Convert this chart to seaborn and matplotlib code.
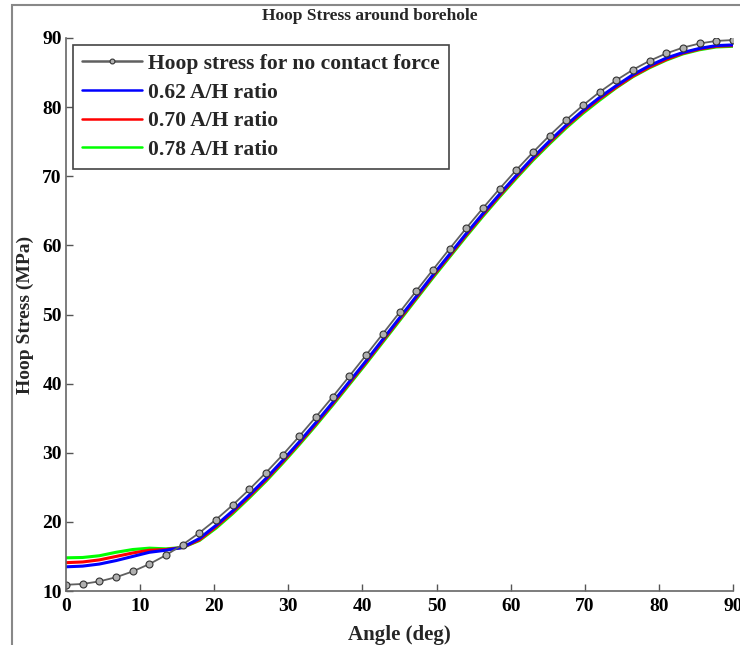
import matplotlib
matplotlib.use("Agg")
import matplotlib.pyplot as plt
import seaborn as sns
import pandas as pd
from matplotlib.patches import Rectangle

angles = [0, 2.25, 4.5, 6.75, 9, 11.25, 13.5, 15.75, 18, 20.25, 22.5, 24.75, 27, 29.25,
          31.5, 33.75, 36, 38.25, 40.5, 42.75, 45, 47.25, 49.5, 51.75, 54, 56.25, 58.5,
          60.75, 63, 65.25, 67.5, 69.75, 72, 74.25, 76.5, 78.75, 81, 83.25, 85.5, 87.75, 90]

no_contact = [10.9, 11.02, 11.39, 11.99, 12.83, 13.90, 15.19, 16.71, 18.42, 20.34, 22.44,
              24.71, 27.14, 29.71, 32.41, 35.22, 38.12, 41.10, 44.14, 47.21, 50.30, 53.39,
              56.46, 59.50, 62.48, 65.38, 68.19, 70.89, 73.46, 75.89, 78.16, 80.26, 82.18,
              83.89, 85.41, 86.70, 87.77, 88.61, 89.21, 89.58, 89.70]

ratio_062 = [13.5, 13.6, 13.9, 14.4, 15.0, 15.6, 15.9, 16.3, 17.6, 19.5, 21.6, 23.9, 26.3,
             28.9, 31.6, 34.4, 37.3, 40.3, 43.3, 46.4, 49.5, 52.6, 55.7, 58.7, 61.7, 64.6,
             67.4, 70.1, 72.7, 75.1, 77.4, 79.5, 81.4, 83.1, 84.7, 86.0, 87.1, 87.9, 88.5,
             88.9, 89.0]

ratio_070 = [14.1, 14.2, 14.5, 15.0, 15.5, 15.9, 16.0, 16.3, 17.4, 19.3, 21.4, 23.7, 26.1,
             28.7, 31.4, 34.2, 37.1, 40.1, 43.1, 46.2, 49.3, 52.4, 55.5, 58.5, 61.5, 64.4,
             67.2, 69.9, 72.5, 74.9, 77.2, 79.3, 81.2, 82.9, 84.5, 85.8, 86.9, 87.8, 88.4,
             88.8, 88.9]

ratio_078 = [14.8, 14.85, 15.1, 15.6, 16.0, 16.2, 16.1, 16.3, 17.3, 19.1, 21.2, 23.5, 25.9,
             28.5, 31.2, 34.0, 36.9, 39.9, 42.9, 46.0, 49.1, 52.2, 55.3, 58.3, 61.3, 64.2,
             67.0, 69.7, 72.3, 74.7, 77.0, 79.1, 81.0, 82.8, 84.4, 85.7, 86.8, 87.7, 88.3,
             88.7, 88.8]

labels = ["Hoop stress for no contact force", "0.62 A/H ratio", "0.70 A/H ratio", "0.78 A/H ratio"]
colors = ["#606060", "#0000ff", "#ff0000", "#00ff00"]
x_ticks = [0, 10, 20, 30, 40, 50, 60, 70, 80, 90]
y_ticks = [10, 20, 30, 40, 50, 60, 70, 80, 90]

sns.set_theme(style="white")
plt.rcParams['font.family'] = ['Liberation Serif', 'DejaVu Serif']
plt.rcParams['font.weight'] = 'bold'

fig = plt.figure(figsize=(7.4, 6.45), dpi=100)
ax = fig.add_axes([66 / 740, 1 - 591 / 645, (733 - 66) / 740, (591 - 38) / 645])

df_col = pd.DataFrame({
    "angle": angles * 3,
    "stress": ratio_078 + ratio_070 + ratio_062,
    "series": [labels[3]] * len(angles) + [labels[2]] * len(angles) + [labels[1]] * len(angles),
})
for lab, col in [(labels[3], colors[3]), (labels[2], colors[2]), (labels[1], colors[1])]:
    sub = df_col[df_col["series"] == lab]
    sns.lineplot(data=sub, x="angle", y="stress", ax=ax, color=col, linewidth=2.2,
                 label=lab, sort=False, estimator=None)

df_nc = pd.DataFrame({"angle": angles, "stress": no_contact})
sns.lineplot(data=df_nc, x="angle", y="stress", ax=ax, color=colors[0], linewidth=1.3,
             marker="o", markersize=5, markerfacecolor="#b0b0b0", markeredgecolor="#333333",
             markeredgewidth=0.8, label=labels[0], sort=False, estimator=None)

ax.set_xlim(0, 90)
ax.set_ylim(10, 90)
ax.set_xticks(x_ticks)
ax.set_yticks(y_ticks)
ax.tick_params(direction="in", length=5, width=1, colors="#555555", labelcolor="black",
               labelsize=14, bottom=True, left=True)
ax.tick_params(axis="x", pad=5)
ax.tick_params(axis="y", pad=3)
for lbl in ax.get_xticklabels() + ax.get_yticklabels():
    lbl.set_fontweight("bold")

for s in ["top", "right"]:
    ax.spines[s].set_visible(False)
for s in ["left", "bottom"]:
    ax.spines[s].set_color("#666666")
    ax.spines[s].set_linewidth(1.2)

ax.set_xlabel("Angle (deg)", fontsize=15, fontweight="bold", labelpad=7)
ax.set_ylabel("Hoop Stress (MPa)", fontsize=14, fontweight="bold", labelpad=6)
ax.set_title("Hoop Stress around borehole", fontsize=12.5, fontweight="bold", pad=0,
             x=(370 - 66) / 667, y=1.032)

handles, lbls = ax.get_legend_handles_labels()
order = [lbls.index(l) for l in labels]
leg = ax.legend([handles[i] for i in order], [lbls[i] for i in order],
                loc="upper left", bbox_to_anchor=(0.0105, 0.987), borderaxespad=0,
                frameon=True, fancybox=False, edgecolor="#444444", framealpha=1,
                handlelength=2.8, handletextpad=0.3, borderpad=0.4, labelspacing=0.4,
                prop={"weight": "bold", "size": 15.5})
leg.get_frame().set_linewidth(1.2)
for h in leg.legend_handles:
    h.set_linewidth(1.8)
    if hasattr(h, "set_markersize"):
        h.set_markersize(3.5)

fig.patches.append(Rectangle((12 / 740, -0.02), 1.0, 1 - 5 / 645 + 0.02,
                             transform=fig.transFigure, fill=False,
                             edgecolor="#888888", linewidth=1.5, zorder=0))

fig.savefig("out.png", dpi=100)
